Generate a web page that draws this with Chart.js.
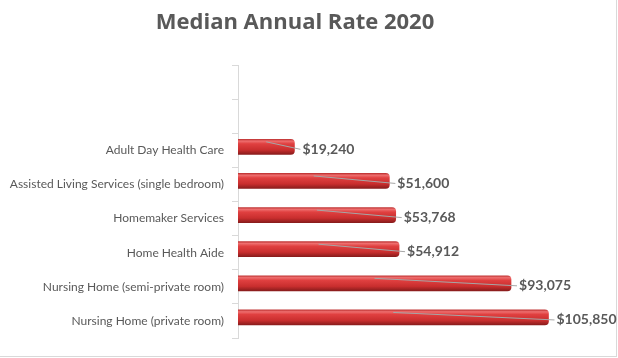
<!DOCTYPE html>
<html>
<head>
<meta charset="utf-8">
<script src="https://cdn.jsdelivr.net/npm/chart.js@4"></script>
<style>
  html, body { margin: 0; padding: 0; background: #fff; }
  #wrap { position: relative; width: 618px; height: 358px; overflow: hidden; }
  #frame { position: absolute; left: -1px; top: -1px; width: 616px; height: 356px; border: 1px solid #d9d9d9; }
  canvas { position: absolute; left: 0; top: 0; }
</style>
</head>
<body>
<div id="wrap">
  <div id="frame"></div>
  <canvas id="c" width="618" height="358"></canvas>
</div>
<script>
const titleText = 'Median Annual Rate 2020';
const categories = [
  '',
  '',
  'Adult Day Health Care',
  'Assisted Living Services (single bedroom)',
  'Homemaker Services',
  'Home Health Aide',
  'Nursing Home (semi-private room)',
  'Nursing Home (private room)'
];
const rates = [null, null, 19240, 51600, 53768, 54912, 93075, 105850];

const textGray = '#595959';
const fontFam = 'Lato, "Open Sans", sans-serif';

function barGradient(ctx) {
  const chart = ctx.chart;
  const y = chart.scales && chart.scales.y;
  if (!y || ctx.dataIndex === undefined) return '#d03030';
  const cy = y.getPixelForValue(ctx.dataIndex);
  if (!isFinite(cy)) return '#d03030';
  const g = chart.ctx.createLinearGradient(0, cy - 7.5, 0, cy + 7.5);
  g.addColorStop(0, '#c23636');
  g.addColorStop(0.12, '#ee6e6e');
  g.addColorStop(0.3, '#e04040');
  g.addColorStop(0.7, '#c92e2e');
  g.addColorStop(1, '#8a1c1c');
  return g;
}

const shiftPlugin = {
  id: 'shift',
  beforeDatasetsDraw(chart) { chart.ctx.save(); chart.ctx.translate(0, -3.5); },
  afterDatasetsDraw(chart) { chart.ctx.restore(); }
};

const labelPlugin = {
  id: 'valueLabels',
  afterDatasetsDraw(chart) {
    const ctx = chart.ctx;
    const meta = chart.getDatasetMeta(0);
    ctx.save();
    ctx.translate(0, -3.5);
    meta.data.forEach((bar, i) => {
      const v = rates[i];
      if (v === null || v === undefined) return;
      const base = bar.base;
      const lx = bar.x + 8;
      const ly = bar.y + 2.5;
      ctx.strokeStyle = '#a6a6a6';
      ctx.lineWidth = 1;
      ctx.beginPath();
      ctx.moveTo((base + bar.x) / 2, bar.y - 5);
      ctx.lineTo(lx - 2, ly);
      ctx.stroke();
      ctx.fillStyle = textGray;
      ctx.font = 'bold 14px ' + fontFam;
      ctx.textAlign = 'left';
      ctx.textBaseline = 'middle';
      ctx.fillText('$' + v.toLocaleString('en-US'), lx, ly);
    });
    ctx.restore();
  }
};

new Chart(document.getElementById('c'), {
  type: 'bar',
  data: {
    labels: categories,
    datasets: [{
      data: rates,
      backgroundColor: barGradient,
      borderWidth: 0,
      borderSkipped: 'start',
      borderRadius: { topRight: 4, bottomRight: 4, topLeft: 0, bottomLeft: 0 },
      barThickness: 15
    }]
  },
  options: {
    indexAxis: 'y',
    responsive: false,
    animation: false,
    devicePixelRatio: 1,
    layout: { padding: { left: 0, right: 28, top: 0, bottom: 20 } },
    plugins: {
      legend: { display: false },
      tooltip: { enabled: false },
      title: {
        display: true,
        text: titleText,
        color: textGray,
        font: { family: '"Open Sans", Lato, sans-serif', size: 22, weight: 'bold' },
        padding: { top: 10, bottom: 28.6 }
      }
    },
    scales: {
      x: {
        display: false,
        min: 0,
        max: 120000
      },
      y: {
        afterFit(scale) { scale.width = 238; },
        grid: {
          display: true,
          drawOnChartArea: false,
          drawTicks: true,
          tickLength: 6,
          color: '#d9d9d9',
          offset: true
        },
        border: { display: true, color: '#d9d9d9' },
        ticks: {
          color: textGray,
          padding: 8,
          font: { family: fontFam, size: 12 }
        }
      }
    }
  },
  plugins: [shiftPlugin, labelPlugin]
});
</script>
</body>
</html>
